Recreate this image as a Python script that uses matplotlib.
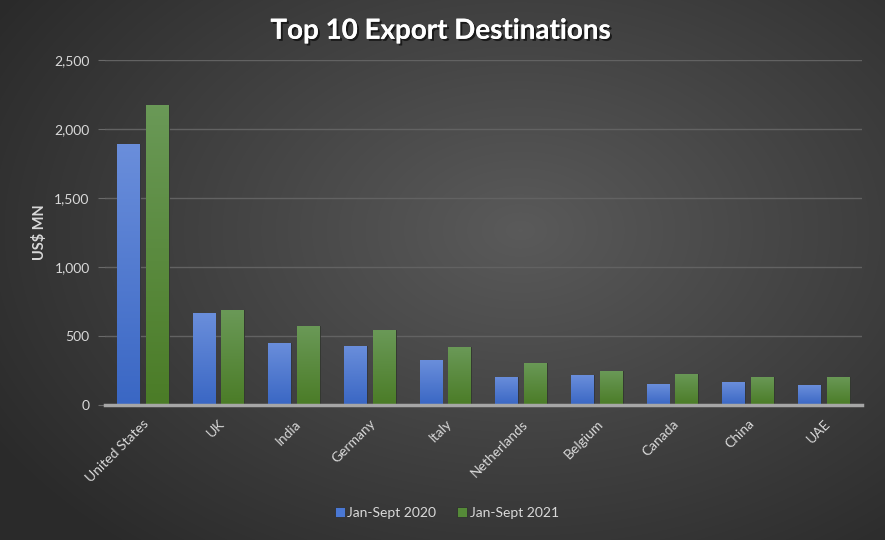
import numpy as np
import matplotlib
matplotlib.use("Agg")
import matplotlib.pyplot as plt
from matplotlib.colors import LinearSegmentedColormap
import matplotlib.patheffects as pe

categories = ["United States", "UK", "India", "Germany", "Italy", "Netherlands",
              "Belgium", "Canada", "China", "UAE"]
values_2020 = [1890, 665, 450, 430, 326, 203, 215, 152, 164, 143]
values_2021 = [2175, 685, 572, 540, 418, 307, 246, 225, 205, 205]
series_labels = ["Jan-Sept 2020", "Jan-Sept 2021"]
y_ticks = [0, 500, 1000, 1500, 2000, 2500]

plt.rcParams['font.family'] = ['Lato', 'DejaVu Sans']

fig = plt.figure(figsize=(8.85, 5.4), dpi=100)

# radial gradient background
bg = fig.add_axes([0, 0, 1, 1], zorder=-10)
yy, xx = np.mgrid[0:540, 0:885]
d = np.sqrt(((xx - 520) / 620.0) ** 2 + ((yy - 230) / 420.0) ** 2)
d = np.clip(d, 0, 1)
bgcmap = LinearSegmentedColormap.from_list("bg", ["#5a5a5a", "#2a2a2a"])
bg.imshow(d, cmap=bgcmap, aspect="auto", extent=[0, 1, 0, 1], vmin=0, vmax=1)
bg.axis("off")

ax = fig.add_axes([0.1186, 0.25, 0.855, 0.639])
ax.set_facecolor("none")

x = np.arange(len(categories))
w = 0.30
off = 0.19
b1 = ax.bar(x - off, values_2020, w, color="#4a78d4", label=series_labels[0], zorder=3)
b2 = ax.bar(x + off, values_2021, w, color="#558a38", label=series_labels[1], zorder=3)

grad = np.linspace(0, 1, 100).reshape(-1, 1)
cm_blue = LinearSegmentedColormap.from_list("b", ["#3a67c4", "#6a8edb"])
cm_green = LinearSegmentedColormap.from_list("g", ["#4b7c27", "#6a9957"])
for bars, cm in ((b1, cm_blue), (b2, cm_green)):
    for p in bars:
        x0, y0 = p.get_x(), p.get_y()
        im = ax.imshow(grad, cmap=cm, aspect="auto", origin="lower",
                       extent=[x0, x0 + p.get_width(), y0, y0 + p.get_height()], zorder=3.5)
        im.set_clip_path(p)
        p.set_edgecolor("#303030")
        p.set_linewidth(0.6)

ax.set_xlim(-0.5, len(categories) - 0.5)
ax.set_ylim(0, 2500)
ax.set_yticks(y_ticks)
ax.set_yticklabels([f"{v:,}" for v in y_ticks], color="#d9d9d9", fontsize=10)
ax.set_xticks(x)
ax.set_xticklabels(categories, rotation=45, ha="right", rotation_mode="anchor",
                   color="#d9d9d9", fontsize=10)
ax.tick_params(axis="x", length=0, pad=9)
ax.tick_params(axis="y", length=5, color="#6a6a6a", pad=6)
ax.grid(axis="y", color="#626262", linewidth=1, zorder=0)
for s in ["top", "right", "left"]:
    ax.spines[s].set_visible(False)
ax.spines["bottom"].set_color("#a6a6a6")
ax.spines["bottom"].set_linewidth(2.5)
ax.spines["bottom"].set_zorder(5)

ax.set_ylabel("US$ MN", color="#d9d9d9", fontsize=10.5, fontweight="bold", labelpad=5)

fig.text(0.498, 0.943, "Top 10 Export Destinations", ha="center", va="center",
         fontsize=20, fontweight="bold", color="white",
         path_effects=[pe.withSimplePatchShadow(offset=(1.5, -1.5), shadow_rgbFace="black", alpha=0.6), pe.Normal()])

leg = fig.legend(handles=[b1, b2], labels=series_labels, loc="center",
                 bbox_to_anchor=(0.505, 0.05), ncol=2, frameon=False,
                 fontsize=10, handlelength=0.7, handleheight=0.7,
                 handletextpad=0.2, columnspacing=1.5)
for t in leg.get_texts():
    t.set_color("#d9d9d9")

fig.savefig("out.png", dpi=100)
